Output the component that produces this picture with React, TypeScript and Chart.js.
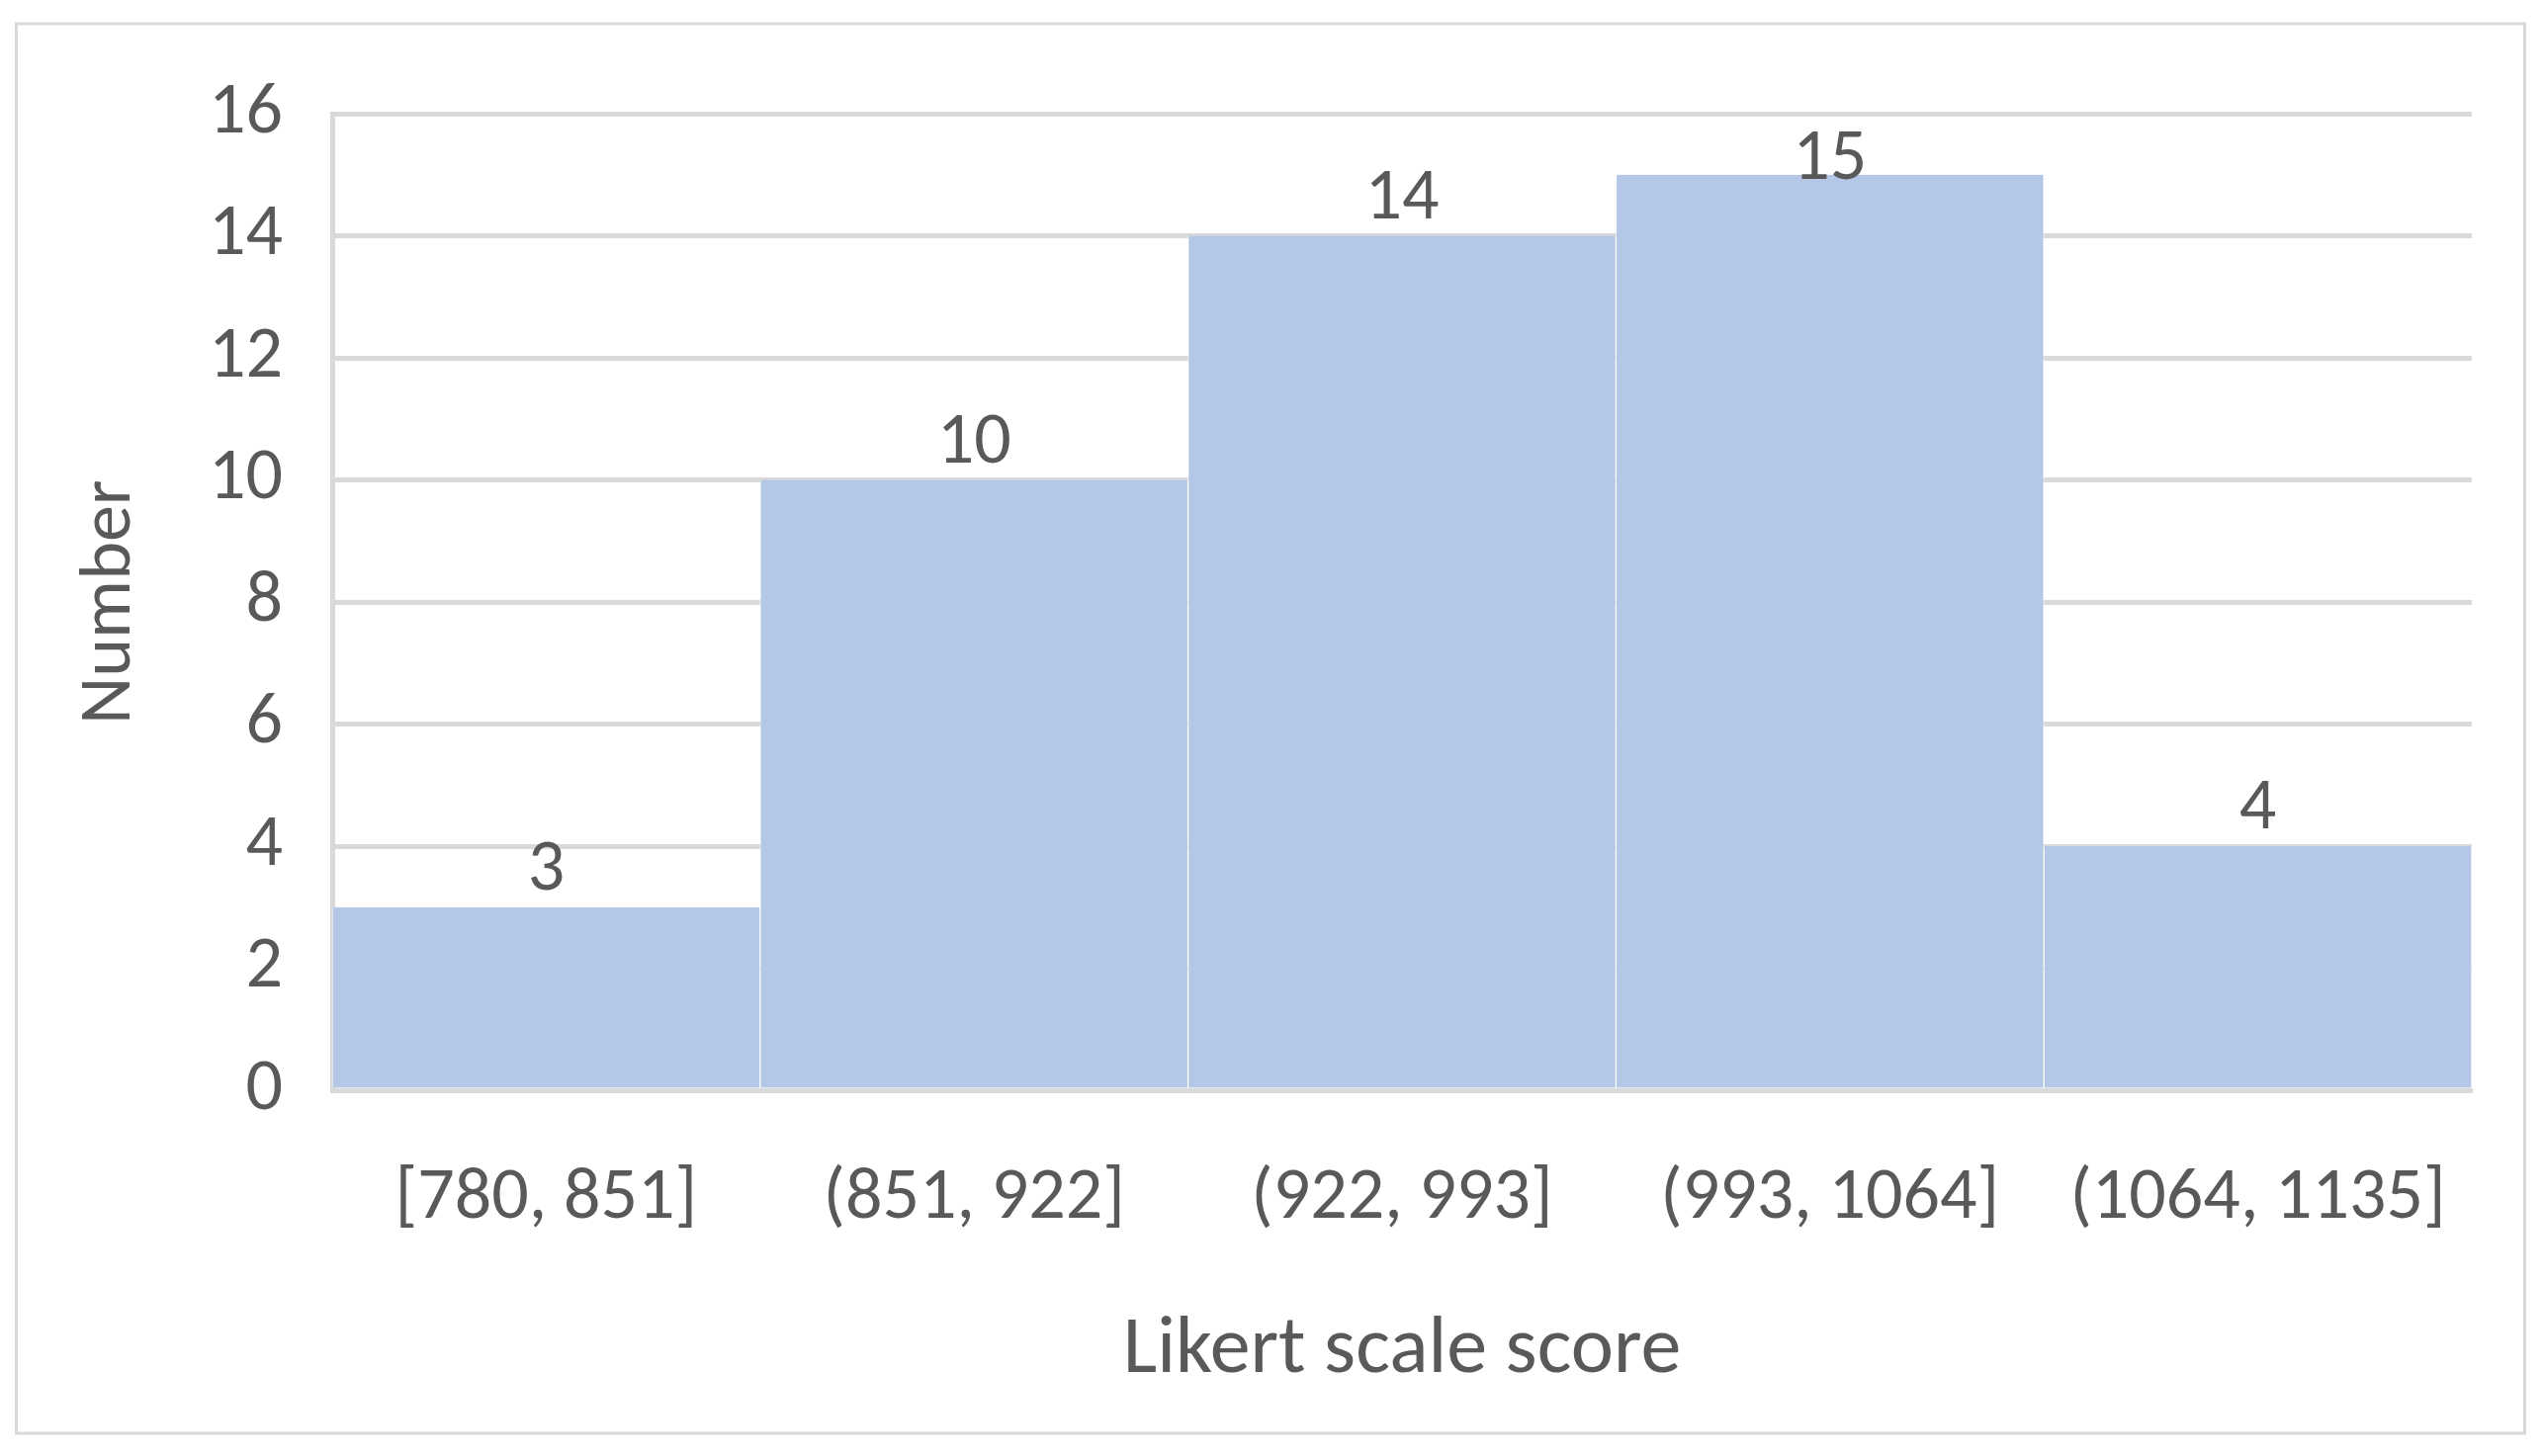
import React, { useEffect, useRef } from "react";
import { Chart, registerables } from "chart.js";

Chart.register(...registerables);

const categories = ["[780, 851]", "(851, 922]", "(922, 993]", "(993, 1064]", "(1064, 1135]"];
const counts = [3, 10, 14, 15, 4];
const yTicks = [0, 2, 4, 6, 8, 10, 12, 14, 16];
const xTitle = "Likert scale score";
const yTitle = "Number";

const FONT = '"Carlito", "Calibri", "Lato", sans-serif';
const TEXT = "#595959";
const GRID = "#d9d9d9";

const framePlugin = {
  id: "frame",
  beforeDraw(chart: any) {
    const { ctx } = chart;
    ctx.save();
    ctx.fillStyle = "#ffffff";
    ctx.fillRect(0, 0, chart.width, chart.height);
    ctx.strokeStyle = GRID;
    ctx.lineWidth = 3;
    ctx.strokeRect(8.5, 16, chart.width - 17, chart.height - 31);
    ctx.restore();
  },
};

const valueLabels = {
  id: "valueLabels",
  afterDatasetsDraw(chart: any) {
    const { ctx, chartArea } = chart;
    const meta = chart.getDatasetMeta(0);
    ctx.save();
    ctx.font = `74px ${FONT}`;
    ctx.fillStyle = TEXT;
    ctx.textAlign = "center";
    ctx.textBaseline = "alphabetic";
    meta.data.forEach((el: any, i: number) => {
      const y = Math.max(el.y - 18, chartArea.top + 66);
      ctx.fillText(String(counts[i]), el.x, y);
    });
    ctx.restore();
  },
};

export default function App() {
  const ref = useRef<HTMLCanvasElement | null>(null);
  useEffect(() => {
    if (!ref.current) return;
    const chart = new Chart(ref.current, {
      type: "bar",
      data: {
        labels: categories,
        datasets: [
          {
            data: counts,
            backgroundColor: "#b4c7e7",
            borderColor: "rgba(255,255,255,0.6)",
            borderWidth: { left: 1, right: 1, top: 0, bottom: 0 },
            borderSkipped: false,
            barPercentage: 1,
            categoryPercentage: 1,
          },
        ],
      },
      options: {
        animation: false,
        responsive: true,
        maintainAspectRatio: false,
        layout: { padding: { left: 0, top: 107, right: 62, bottom: 48 } },
        plugins: {
          legend: { display: false },
          tooltip: { enabled: false },
        },
        scales: {
          x: {
            grid: { display: false },
            border: { display: true, color: GRID, width: 5 },
            ticks: {
              color: TEXT,
              font: { family: FONT, size: 74 },
              padding: 58,
              maxRotation: 0,
              autoSkip: false,
            },
            title: {
              display: true,
              text: xTitle,
              color: TEXT,
              font: { family: FONT, size: 82 },
              padding: { top: 0, bottom: 0 },
            },
            afterFit(scale: any) {
              scale.height = 314;
            },
          },
          y: {
            min: 0,
            max: 16,
            afterBuildTicks(scale: any) {
              scale.ticks = yTicks.map((v) => ({ value: v }));
            },
            grid: { color: GRID, lineWidth: 5, drawTicks: false },
            border: { display: true, color: GRID, width: 5 },
            ticks: {
              color: TEXT,
              font: { family: FONT, size: 74 },
              padding: 50,
            },
            title: {
              display: true,
              text: yTitle,
              color: TEXT,
              font: { family: FONT, size: 74 },
              padding: { top: 60, bottom: 0 },
            },
            afterFit(scale: any) {
              scale.width = 328;
            },
          },
        },
      },
      plugins: [framePlugin, valueLabels],
    });
    return () => chart.destroy();
  }, []);
  return (
    <div style={{ width: 2554, height: 1457, position: "relative" }}>
      <canvas ref={ref} />
    </div>
  );
}
